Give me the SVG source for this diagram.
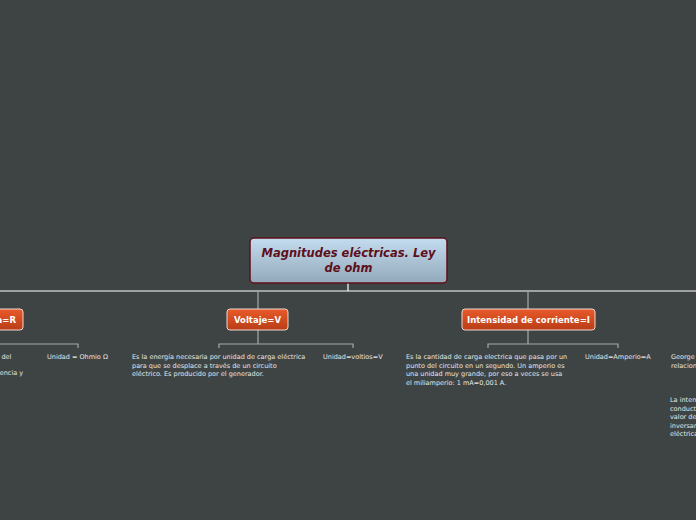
<svg xmlns="http://www.w3.org/2000/svg" width="696" height="520" viewBox="0 0 696 520">
<defs>
<linearGradient id="rg" x1="0" y1="0" x2="0" y2="1"><stop offset="0" stop-color="#c4dcef"/><stop offset="1" stop-color="#93a9bb"/></linearGradient>
<linearGradient id="og" x1="0" y1="0" x2="0" y2="1"><stop offset="0" stop-color="#e95a2a"/><stop offset="1" stop-color="#b83d17"/></linearGradient>
</defs>
<style>
.t{font-family:"DejaVu Sans",sans-serif;font-size:6.5px;fill:#e6e6e6}
.b{font-family:"DejaVu Sans",sans-serif;font-size:8.5px;font-weight:bold;fill:#fff;text-anchor:middle}
.ob{fill:url(#og);stroke:#f0d8d0;stroke-width:1}
.c{stroke:#a8a8a8;stroke-width:1.2;fill:none}
</style>
<rect width="696" height="520" fill="#3e4444"/>
<g id="connectors">
<path d="M0 291H696M348 283V291" stroke="#fff" stroke-width="1.2" fill="none"/>
<path class="c" d="M258 291V309M528 291V309"/>
<path class="c" d="M258 330V344M219 348V344H353V348"/>
<path class="c" d="M528 330V344M488 348V344H618V348"/>
<path class="c" d="M0 344H78V348"/>
</g>
<g id="root">
<rect x="250" y="238" width="197" height="45" rx="4" fill="url(#rg)" stroke="#5e0f1a" stroke-width="1.5"/>
<text x="348.5" y="257" font-family="DejaVu Sans,sans-serif" font-size="11.5" font-weight="bold" font-style="italic" fill="#5e0f1a" text-anchor="middle">Magnitudes eléctricas. Ley</text>
<text x="348.5" y="272" font-family="DejaVu Sans,sans-serif" font-size="11.5" font-weight="bold" font-style="italic" fill="#5e0f1a" text-anchor="middle">de ohm</text>
</g>
<g id="resistencia">
<rect class="ob" x="-60" y="309" width="83" height="21" rx="3"/>
<text class="b" x="16" y="323" style="text-anchor:end">Resistencia=R</text>
<text class="t" x="-4" y="359">s del</text>
<text class="t" x="-8" y="375">istencia y</text>
<text class="t" x="47" y="359">Unidad = Ohmio Ω</text>
</g>
<g id="voltaje">
<rect class="ob" x="227" y="309" width="61" height="21" rx="3"/>
<text class="b" x="257.5" y="323">Voltaje=V</text>
<text class="t" x="132" y="359">Es la energía necesaria por unidad de carga eléctrica</text>
<text class="t" x="132" y="367.5">para que se desplace a través de un circuito</text>
<text class="t" x="132" y="376">eléctrico. Es producido por el generador.</text>
<text class="t" x="323" y="359">Unidad=voltios=V</text>
</g>
<g id="intensidad">
<rect class="ob" x="462" y="309" width="133" height="21" rx="3"/>
<text class="b" x="528.5" y="323">Intensidad de corriente=I</text>
<text class="t" x="406" y="359">Es la cantidad de carga electrica que pasa por un</text>
<text class="t" x="406" y="367.5">punto del circuito en un segundo. Un amperio es</text>
<text class="t" x="406" y="376">una unidad muy grande, por eso a veces se usa</text>
<text class="t" x="406" y="384.5">el miliamperio: 1 mA=0,001 A.</text>
<text class="t" x="585" y="359">Unidad=Amperio=A</text>
</g>
<g id="ley">
<text class="t" x="671" y="359">George</text>
<text class="t" x="671" y="367.5">relacion</text>
<text class="t" x="670" y="402">La inten</text>
<text class="t" x="670" y="410.5">conduct</text>
<text class="t" x="670" y="419">valor de</text>
<text class="t" x="670" y="427.5">inversan</text>
<text class="t" x="670" y="436">eléctrica</text>
</g>
</svg>
